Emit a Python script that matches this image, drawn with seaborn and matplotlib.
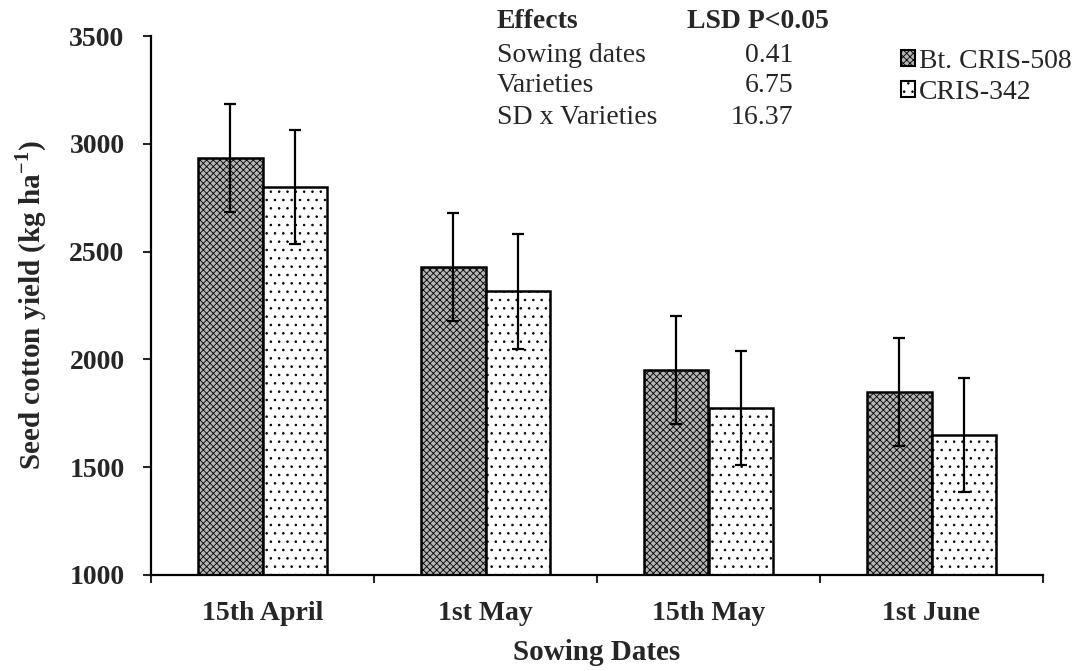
import matplotlib
matplotlib.use("Agg")
import matplotlib.pyplot as plt
import seaborn as sns
import pandas as pd
import numpy as np

dates = ["15th April", "1st May", "15th May", "1st June"]
varieties = ["Bt. CRIS-508", "CRIS-342"]
bt_yield = [2935, 2430, 1950, 1850]
cris_yield = [2800, 2315, 1775, 1650]
bt_err = [250, 250, 250, 250]
cris_err = [265, 265, 265, 265]

effects = ["Sowing dates", "Varieties", "SD x Varieties"]
lsd = ["0.41", "6.75", "16.37"]

df = pd.DataFrame({
    "date": dates * 2,
    "variety": [varieties[0]] * 4 + [varieties[1]] * 4,
    "yield": bt_yield + cris_yield,
})

sns.set_style("white")
plt.rcParams["font.family"] = ["Liberation Serif", "DejaVu Serif"]
plt.rcParams["mathtext.fontset"] = "custom"
plt.rcParams["mathtext.rm"] = "Liberation Serif"
plt.rcParams["mathtext.bf"] = "Liberation Serif:bold"
plt.rcParams["hatch.linewidth"] = 0.6

fig = plt.figure(figsize=(10.89, 6.71), dpi=100)
ax = fig.add_axes([151 / 1089, 1 - 575 / 671, (1043 - 151) / 1089, (575 - 36) / 671])

sns.barplot(data=df, x="date", y="yield", hue="variety", order=dates,
            hue_order=varieties, errorbar=None, width=0.58, ax=ax,
            palette=["#a0a0a0", "white"], edgecolor="black", linewidth=1.8,
            legend=True)

styles = [("#b4b4b4", "xxxxx"), ("white", "..")]
for i, cont in enumerate(ax.containers[:2]):
    fc, h = styles[i]
    errs = bt_err if i == 0 else cris_err
    xs, ys = [], []
    for bar in cont:
        bar.set_facecolor(fc)
        bar.set_hatch(h)
        bar.set_edgecolor("black")
        xs.append(bar.get_x() + bar.get_width() / 2)
        ys.append(bar.get_height())
    ax.errorbar(xs, ys, yerr=errs, fmt="none", ecolor="black",
                elinewidth=1.6, capsize=4, capthick=1.6, zorder=5)

ax.set_ylim(1000, 3500)
ax.set_yticks([1000, 1500, 2000, 2500, 3000, 3500])
ax.set_xlim(-0.5, 3.5)
ax.set_xticks(np.arange(4))
ax.set_xticks(np.arange(-0.5, 4.0, 1.0), minor=True)
ax.tick_params(axis="x", which="major", length=0, pad=19)
ax.tick_params(axis="x", which="minor", length=6, width=1.5, direction="out", bottom=True)
ax.tick_params(axis="y", length=6, width=1.5, direction="out", left=True, pad=13)
for lab in ax.get_xticklabels() + ax.get_yticklabels():
    lab.set_fontweight("bold")
    lab.set_fontsize(20)

for s in ["top", "right"]:
    ax.spines[s].set_visible(False)
for s in ["left", "bottom"]:
    ax.spines[s].set_linewidth(1.6)
    ax.spines[s].set_color("black")

ax.set_xlabel("Sowing Dates", fontsize=21, fontweight="bold", labelpad=9)
ax.set_ylabel("Seed cotton yield (kg ha$^{\\mathbf{-1}}$)", fontsize=21,
              fontweight="bold", labelpad=15)

leg = ax.legend(loc="upper left", bbox_to_anchor=(901 / 1089, 1 - 49 / 671),
                bbox_transform=fig.transFigure, frameon=False, fontsize=20,
                handlelength=0.5, handleheight=0.5, handletextpad=0.15,
                labelspacing=0.2, borderpad=0, borderaxespad=0)
for h, (fc, hh) in zip(leg.legend_handles, styles):
    h.set_facecolor(fc)
    h.set_hatch(hh)
    h.set_edgecolor("black")
    h.set_linewidth(1.5)

fig.text(497 / 1089, 1 - 21 / 671, "Effects", fontsize=20, fontweight="bold", va="center")
fig.text(687 / 1089, 1 - 21 / 671, "LSD P<0.05", fontsize=20, fontweight="bold", va="center")
for k, (e, v) in enumerate(zip(effects, lsd)):
    y = 1 - (55 + 31 * k) / 671
    fig.text(497 / 1089, y, e, fontsize=20, va="center")
    fig.text(793 / 1089, y, v, fontsize=20, va="center", ha="right")

fig.savefig("out.png", dpi=100)
